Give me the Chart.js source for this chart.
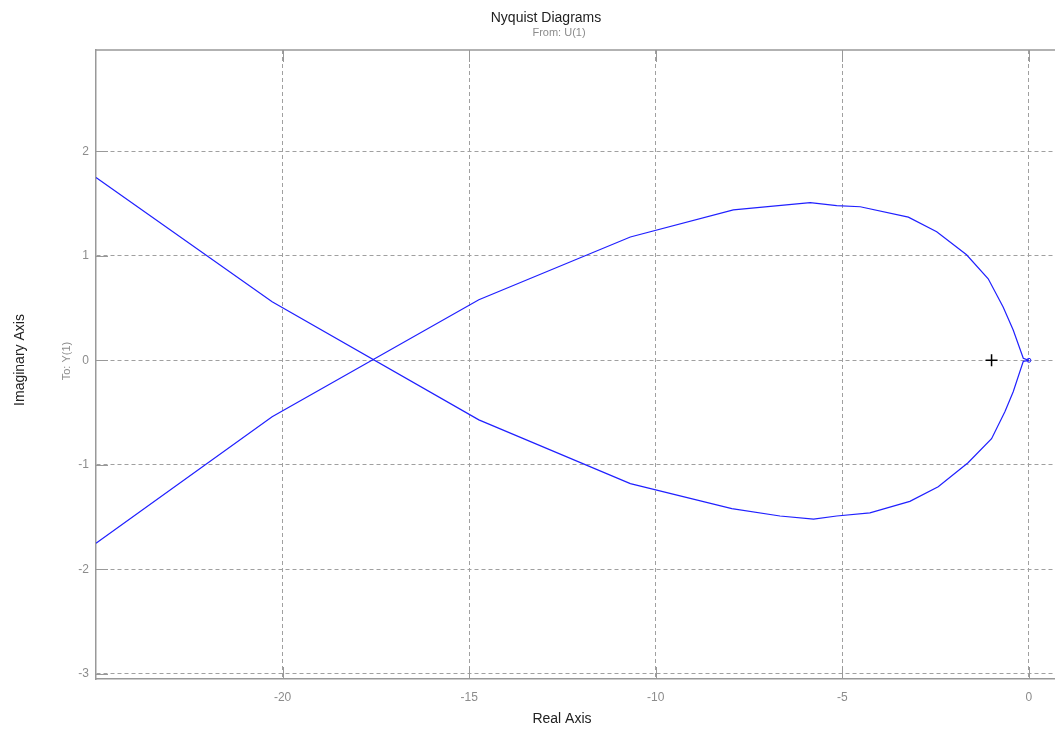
<!DOCTYPE html>
<html>
<head>
<meta charset="utf-8">
<script src="https://cdn.jsdelivr.net/npm/chart.js@4/dist/chart.umd.min.js"></script>
<style>
  html, body { margin: 0; padding: 0; background: #fff; }
  #wrap { width: 1055px; height: 731px; }
</style>
</head>
<body>
<div id="wrap"><canvas id="nyq" width="1055" height="731"></canvas></div>
<script>
// positive frequencies: from lower left, round the upper lobe, into the origin
var posRe = [-25, -20.28, -14.74, -10.68, -7.92, -5.86, -5.15, -4.52, -3.23, -2.47, -1.67, -1.09, -0.69, -0.42, -0.15, 0];
var posIm = [-1.75, -0.54, 0.58, 1.18, 1.44, 1.51, 1.48, 1.47, 1.37, 1.23, 1.01, 0.78, 0.51, 0.29, 0.02, 0];

// negative frequencies: out of the origin, round the lower lobe, to upper left
var negRe = [0, -0.15, -0.42, -0.64, -1.0, -1.63, -2.43, -3.19, -4.26, -5.15, -5.77, -6.67, -7.96, -10.68, -14.74, -20.28, -25];
var negIm = [0, -0.01, -0.30, -0.49, -0.75, -0.98, -1.21, -1.35, -1.46, -1.49, -1.52, -1.49, -1.42, -1.18, -0.57, 0.56, 1.75];

var critical = [-1, 0];

var xTicks = [-20, -15, -10, -5, 0];
var yTicks = [-3, -2, -1, 0, 1, 2];

var gray = '#8c8c8c';
var fontFam = '"Liberation Sans", Arial, sans-serif';

function toPoints(re, im) {
  return re.map(function (v, i) { return { x: v, y: im[i] }; });
}

// titles, axis labels, top edge and the short solid ticks inside the box
var frame = {
  id: 'frame',
  afterDraw: function (chart) {
    var c = chart.ctx;
    var a = chart.chartArea;
    var xs = chart.scales.x, ys = chart.scales.y;
    c.save();
    c.strokeStyle = '#999';
    c.lineWidth = 1.5;
    c.beginPath();
    c.moveTo(a.left, a.top); c.lineTo(a.right, a.top);
    c.stroke();

    c.lineWidth = 1;
    c.beginPath();
    xTicks.forEach(function (v) {
      var px = Math.round(xs.getPixelForValue(v)) + 0.5;
      c.moveTo(px, a.top); c.lineTo(px, a.top + 12);
      c.moveTo(px, a.bottom); c.lineTo(px, a.bottom - 12);
    });
    yTicks.forEach(function (v) {
      var py = Math.round(ys.getPixelForValue(v)) + 0.5;
      c.moveTo(a.left, py); c.lineTo(a.left + 12, py);
    });
    c.stroke();

    c.textAlign = 'center';
    c.textBaseline = 'middle';
    c.fillStyle = '#222';
    c.font = '14px ' + fontFam;
    c.fillText('Nyquist Diagrams', 546, 18);
    c.fillStyle = gray;
    c.font = '11px ' + fontFam;
    c.fillText('From: U(1)', 559, 33);
    c.fillStyle = '#222';
    c.font = '14px ' + fontFam;
    c.fillText('Real Axis', 562, 719);

    c.translate(20, 360);
    c.rotate(-Math.PI / 2);
    c.fillText('Imaginary Axis', 0, 0);
    c.restore();

    c.save();
    c.translate(67, 361);
    c.rotate(-Math.PI / 2);
    c.textAlign = 'center';
    c.textBaseline = 'middle';
    c.fillStyle = gray;
    c.font = '11px ' + fontFam;
    c.fillText('To: Y(1)', 0, 0);
    c.restore();
  }
};

var ctx = document.getElementById('nyq').getContext('2d');
var chart = new Chart(ctx, {
  type: 'scatter',
  data: {
    datasets: [
      {
        data: toPoints(posRe, posIm),
        showLine: true,
        borderColor: '#2020ff',
        borderWidth: 1.2,
        pointRadius: 0,
        tension: 0
      },
      {
        data: toPoints(negRe, negIm),
        showLine: true,
        borderColor: '#2020ff',
        borderWidth: 1.2,
        pointRadius: 0,
        tension: 0
      },
      {
        // tiny loop left at the origin
        data: [{ x: 0, y: 0 }],
        pointStyle: 'circle',
        pointRadius: 2,
        borderColor: '#2020ff',
        borderWidth: 1,
        backgroundColor: 'rgba(0,0,0,0)'
      },
      {
        data: [{ x: critical[0], y: critical[1] }],
        pointStyle: 'cross',
        pointRadius: 6,
        borderColor: '#000',
        borderWidth: 1.5
      }
    ]
  },
  options: {
    responsive: false,
    animation: false,
    layout: { autoPadding: false, padding: { left: 0, top: 50, right: 0, bottom: 0 } },
    plugins: {
      legend: { display: false },
      tooltip: { enabled: false }
    },
    scales: {
      x: {
        type: 'linear',
        min: -25,
        max: 0.7,
        afterBuildTicks: function (s) { s.ticks = xTicks.map(function (v) { return { value: v }; }); },
        afterFit: function (s) { s.height = 52; s.paddingLeft = 0; s.paddingRight = 0; },
        ticks: { color: gray, font: { family: fontFam, size: 12 }, padding: 11 },
        grid: { color: '#a0a0a0', lineWidth: 1, drawTicks: false, tickLength: 0 },
        border: { display: true, color: '#999', width: 1.5, dash: [4, 3] }
      },
      y: {
        type: 'linear',
        min: -3.05,
        max: 2.97,
        afterBuildTicks: function (s) { s.ticks = yTicks.map(function (v) { return { value: v }; }); },
        afterFit: function (s) { s.width = 96; s.paddingTop = 0; s.paddingBottom = 0; },
        ticks: { color: gray, font: { family: fontFam, size: 12 }, padding: 7 },
        grid: { color: '#a0a0a0', lineWidth: 1, drawTicks: false, tickLength: 0 },
        border: { display: true, color: '#999', width: 1.5, dash: [4, 3] }
      }
    }
  },
  plugins: [frame]
});
</script>
</body>
</html>
